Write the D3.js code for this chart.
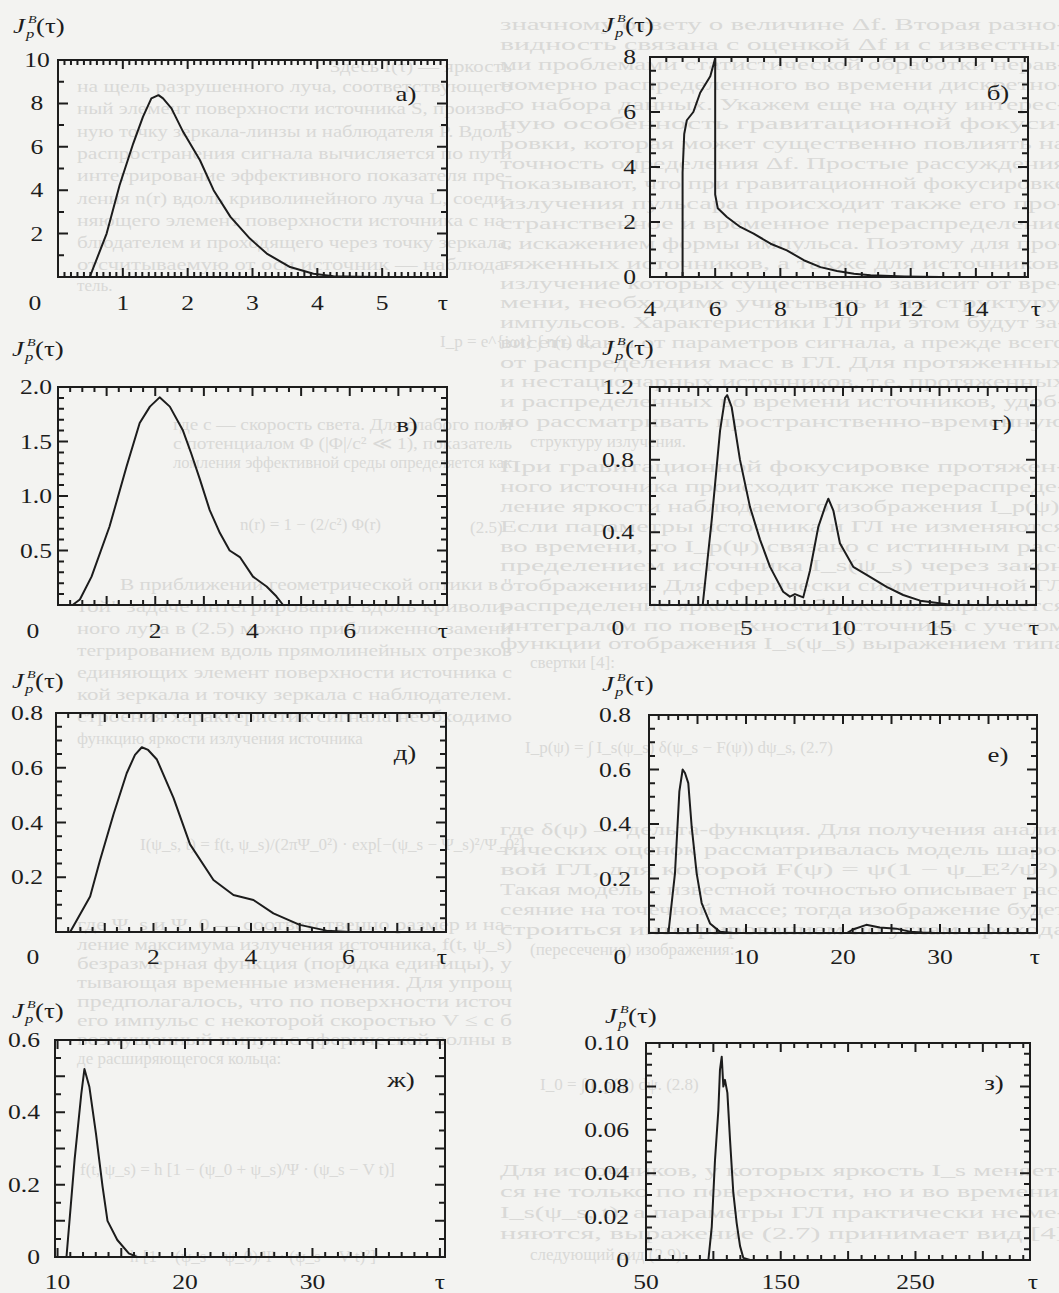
<!DOCTYPE html>
<html>
<head>
<meta charset="UTF-8">
<title>J_p^B(τ)</title>
<script src="https://d3js.org/d3.v7.min.js"></script>
<style>
html,body{margin:0;padding:0;background:#f3f3f1;}
svg{display:block;}
.page text{font-family:"Liberation Serif","DejaVu Serif",serif;fill:#d9d9d7;font-size:17px;}
.plot text{font-family:"Liberation Serif","DejaVu Serif",serif;fill:#1c1c1c;}
.curve{fill:none;stroke:#1c1c1c;stroke-width:2;stroke-linejoin:round;}
.frame{fill:none;stroke:#1c1c1c;stroke-width:2;}
</style>
</head>
<body>
<div id="container"></div>
<script>
// ---- данные ----
// а)
const tauA = [0.49, 0.75, 0.95, 1.16, 1.31, 1.44, 1.55, 1.62, 1.75, 1.93, 2.19, 2.40, 2.66, 2.96, 3.22, 3.58, 3.94, 4.25, 4.6, 5.0, 6.0];
const valA = [0, 2.0, 4.23, 6.15, 7.38, 8.23, 8.38, 8.23, 7.77, 6.69, 5.38, 4.0, 2.77, 1.77, 1.08, 0.46, 0.15, 0.04, 0.01, 0, 0];
// б)
const tauB = [5.0, 5.0, 5.05, 5.13, 5.33, 5.54, 5.85, 6.0, 6.0, 6.08, 6.36, 6.77, 7.18, 7.7, 8.2, 8.72, 9.23, 9.74, 10.26, 10.77, 11.8, 12.9, 15.6];
const valB = [0, 3.8, 5.2, 5.7, 6.0, 6.7, 7.3, 7.95, 3.0, 2.5, 2.18, 1.82, 1.58, 1.21, 0.97, 0.61, 0.36, 0.22, 0.12, 0.06, 0.02, 0, 0];
// в)
const tauV = [0.3, 0.45, 0.69, 1.06, 1.41, 1.68, 1.89, 2.09, 2.3, 2.57, 2.74, 2.92, 3.12, 3.33, 3.53, 3.74, 4.01, 4.29, 4.49, 4.63, 8.0];
const valV = [0, 0.05, 0.26, 0.72, 1.27, 1.67, 1.82, 1.905, 1.82, 1.6, 1.39, 1.15, 0.87, 0.66, 0.5, 0.44, 0.26, 0.17, 0.08, 0, 0];
// г)
const tauG = [2.73, 3.2, 3.63, 3.89, 4.0, 4.23, 4.66, 5.18, 5.7, 6.22, 6.9, 7.25, 7.51, 7.94, 8.29, 8.72, 9.07, 9.24, 9.5, 9.84, 10.53, 11.4, 12.26, 13.12, 14.0, 15.0, 15.7, 20];
const valG = [0, 0.47, 0.96, 1.14, 1.155, 1.09, 0.8, 0.54, 0.36, 0.21, 0.073, 0.046, 0.06, 0.042, 0.19, 0.43, 0.54, 0.585, 0.52, 0.34, 0.21, 0.155, 0.1, 0.055, 0.024, 0.01, 0, 0];
// д)
const tauD = [0.29, 0.70, 0.90, 1.18, 1.45, 1.62, 1.76, 1.89, 2.07, 2.41, 2.75, 3.23, 3.64, 4.05, 4.46, 5.0, 5.55, 6.03, 8.0];
const valD = [0, 0.13, 0.26, 0.43, 0.58, 0.647, 0.675, 0.665, 0.63, 0.49, 0.32, 0.19, 0.135, 0.117, 0.068, 0.026, 0.005, 0, 0];
// е)
const tauE = [2.0, 2.68, 3.13, 3.47, 3.71, 4.05, 4.4, 4.91, 5.43, 6.29, 7.3, 8.7, 20.4, 21.1, 22.4, 23.8, 25.5, 26.9, 28.2, 29.6, 40];
const valE = [0, 0.22, 0.52, 0.60, 0.587, 0.55, 0.39, 0.22, 0.11, 0.035, 0.005, 0, 0, 0.014, 0.03, 0.02, 0.016, 0.005, 0.002, 0, 0];
// ж)
const tauZh = [10.7, 11.34, 11.86, 12.11, 12.5, 13.02, 13.53, 13.92, 14.69, 15.59, 16.24, 40];
const valZh = [0, 0.27, 0.45, 0.52, 0.47, 0.34, 0.195, 0.10, 0.047, 0.01, 0, 0];
// з)
const tauZ = [96.3, 98.8, 101.2, 103.7, 104.9, 106.2, 107.4, 108.6, 110.4, 112.4, 114.8, 117.3, 119.8, 122.2, 127.2, 335];
const valZ = [0, 0.0153, 0.046, 0.069, 0.0876, 0.0937, 0.0799, 0.083, 0.077, 0.055, 0.031, 0.017, 0.0064, 0.001, 0, 0];

// подписи делений
const xLabA = ['1', '2', '3', '4', '5'];
const yLabA = ['10', '8', '6', '4', '2'];
const xLabB = ['4', '6', '8', '10', '12', '14'];
const yLabB = ['8', '6', '4', '2', '0'];
const xLabV = ['2', '4', '6'];
const yLabV = ['2.0', '1.5', '1.0', '0.5'];
const xLabG = ['5', '10', '15'];
const yLabG = ['1.2', '0.8', '0.4'];
const xLabD = ['2', '4', '6'];
const yLabD = ['0.8', '0.6', '0.4', '0.2'];
const xLabE = ['10', '20', '30'];
const yLabE = ['0.8', '0.6', '0.4', '0.2'];
const xLabZh = ['10', '20', '30'];
const yLabZh = ['0.6', '0.4', '0.2', '0'];
const xLabZ = ['50', '150', '250'];
const yLabZ = ['0.10', '0.08', '0.06', '0.04', '0.02', '0'];

const W = 1059, H = 1293;
const SX = 1.28; // шрифт на скане растянут по горизонтали

const panels = [
  { letter: 'а)', tau: tauA, val: valA, xDom: [0, 6], yDom: [0, 10], box: [58, 60, 447, 277],
    xMinor: 0.1, xMajor: 1, yMinor: 1, yMajor: 2, xLab: xLabA, yLab: yLabA,
    yLabX: 37, yAnchor: 'middle', xLabY: 310, zero: [35, 310], tauX: 443, title: [13, 33], let: [406, 101] },
  { letter: 'б)', tau: tauB, val: valB, xDom: [4, 15.6], yDom: [0, 8], box: [650, 57, 1028, 277],
    xMinor: 0.5, xMajor: 2, yMinor: 0.5, yMajor: 2, xLab: xLabB, yLab: yLabB,
    yLabX: 636, yAnchor: 'end', xLabY: 316, zero: null, tauX: 1036, title: [602, 32], let: [998, 100] },
  { letter: 'в)', tau: tauV, val: valV, xDom: [0, 8], yDom: [0, 2], box: [58, 387, 447, 605],
    xMinor: 0.25, xMajor: 1, yMinor: 0.1, yMajor: 0.5, xLab: xLabV, yLab: yLabV,
    yLabX: 52, yAnchor: 'end', xLabY: 638, zero: [33, 638], tauX: 443, title: [12, 356], let: [407, 432] },
  { letter: 'г)', tau: tauG, val: valG, xDom: [0, 20], yDom: [0, 1.2], box: [650, 387, 1036, 605],
    xMinor: 0.5, xMajor: 2.5, yMinor: 0.1, yMajor: 0.4, xLab: xLabG, yLab: yLabG,
    yLabX: 634, yAnchor: 'end', xLabY: 635, zero: [618, 635], tauX: 1034, title: [602, 355], let: [1002, 430] },
  { letter: 'д)', tau: tauD, val: valD, xDom: [0, 8], yDom: [0, 0.8], box: [56, 713, 446, 932],
    xMinor: 0.25, xMajor: 1, yMinor: 0.05, yMajor: 0.2, xLab: xLabD, yLab: yLabD,
    yLabX: 43, yAnchor: 'end', xLabY: 964, zero: [33, 964], tauX: 442, title: [12, 688], let: [405, 760] },
  { letter: 'е)', tau: tauE, val: valE, xDom: [0, 40], yDom: [0, 0.8], box: [649, 715, 1037, 933],
    xMinor: 1, xMajor: 5, yMinor: 0.05, yMajor: 0.2, xLab: xLabE, yLab: yLabE,
    yLabX: 631, yAnchor: 'end', xLabY: 964, zero: [620, 964], tauX: 1035, title: [602, 691], let: [998, 762] },
  { letter: 'ж)', tau: tauZh, val: valZh, xDom: [9.8, 40.4], yDom: [0, 0.6], box: [55, 1040, 445, 1257],
    xMinor: 1, xMajor: 5, yMinor: 0.05, yMajor: 0.1, xLab: xLabZh, yLab: yLabZh,
    yLabX: 40, yAnchor: 'end', xLabY: 1289, zero: null, tauX: 440, title: [12, 1018], let: [401, 1087] },
  { letter: 'з)', tau: tauZ, val: valZ, xDom: [50, 335], yDom: [0, 0.1], box: [646, 1043, 1030, 1260],
    xMinor: 10, xMajor: 50, yMinor: 0.005, yMajor: 0.02, xLab: xLabZ, yLab: yLabZ,
    yLabX: 629, yAnchor: 'end', xLabY: 1289, zero: null, tauX: 1033, title: [605, 1023], let: [994, 1090] }
];

// бледный текст страницы, просвечивающий на скане
const leftText = [
  [330, 72, 'Здесь I(τ) — яркость'],
  [77, 92, 'на щель разрушенного луча, соответствующего'],
  [77, 114, 'ный элемент поверхности источника S, произво-'],
  [77, 137, 'ную точку зеркала-линзы и наблюдателя P. Вдоль'],
  [77, 159, 'распространения сигнала вычисляется по пути'],
  [77, 181, 'интегрирование эффективного показателя пре-'],
  [77, 204, 'ления n(r) вдоль криволинейного луча L, соеди-'],
  [77, 226, 'няющего элемент поверхности источника с на-'],
  [77, 248, 'блюдателем и проходящего через точку зеркала,'],
  [77, 270, 'отсчитываемую от оси источник — наблюда-'],
  [77, 291, 'тель.', 1],
  [440, 347, 'I_p = e^{iωt} ∫ n(r) dl,', 1],
  [173, 430, 'где c — скорость света. Для слабого поля'],
  [173, 449, 'с потенциалом Φ (|Φ|/c² ≪ 1), показатель'],
  [173, 468, 'ломления эффективной среды определяется как'],
  [240, 530, 'n(r) = 1 − (2/c²) Φ(r)', 1],
  [470, 533, '(2.5)', 1],
  [120, 590, 'В приближении геометрической оптики в "'],
  [77, 612, 'той" задаче интегрирование вдоль криволи-'],
  [77, 634, 'ного луча в (2.5) можно приближенно замени'],
  [77, 656, 'тегрированием вдоль прямолинейных отрезков'],
  [77, 678, 'единяющих элемент поверхности источника с'],
  [77, 700, 'кой зеркала и точку зеркала с наблюдателем.'],
  [77, 722, 'строения характеристик сигнала необходимо'],
  [77, 744, 'функцию яркости излучения источника', 1],
  [140, 850, 'I(ψ_s, t) = f(t, ψ_s)/(2πΨ_0²) · exp[−(ψ_s − Ψ_s)²/Ψ_0²]', 1],
  [77, 930, 'где Ψ_s и Ψ_0 — соответственно размер и на-'],
  [77, 950, 'ление максимума излучения источника, f(t, ψ_s)'],
  [77, 969, 'безразмерная функция (порядка единицы), у'],
  [77, 988, 'тывающая временные изменения. Для упрощ'],
  [77, 1007, 'предполагалось, что по поверхности источ'],
  [77, 1026, 'его импульс с некоторой скоростью V ≤ c б'],
  [77, 1045, 'возмущенный импульс сферической волны в'],
  [77, 1064, 'де расширяющегося кольца:', 1],
  [80, 1175, 'f(t, ψ_s) = h [1 − (ψ_0 + ψ_s)/Ψ · (ψ_s − V t)]', 1],
  [130, 1262, 'h [1 − (ψ_s − ψ_0)/Ψ · (ψ_s − V t)²]', 1]
];
const rightText = [
  [500, 30, 'значному ответу о величине Δf. Вторая разно-'],
  [500, 50, 'видность связана с оценкой Δf и с известны-'],
  [500, 70, 'ми проблемами статистической обработки нерав-'],
  [500, 90, 'номерно распределенного во времени дискретно-'],
  [500, 110, 'го набора данных. Укажем еще на одну интерес-'],
  [500, 129, 'ную особенность гравитационной фокуси-'],
  [500, 149, 'ровки, которая может существенно повлиять на'],
  [500, 169, 'точность определения Δf. Простые рассуждения'],
  [500, 189, 'показывают, что при гравитационной фокусировке'],
  [500, 209, 'излучения пульсара происходит также его про-'],
  [500, 229, 'странственное и временное перераспределение'],
  [500, 249, 'с искажением формы импульса. Поэтому для про-'],
  [500, 269, 'тяженных источников, а также для источников,'],
  [500, 289, 'излучение которых существенно зависит от вре-'],
  [500, 308, 'мени, необходимо учитывать и их структуру.'],
  [500, 328, 'импульсов. Характеристики ГЛ при этом будут за-'],
  [500, 348, 'висеть как и от параметров сигнала, а прежде всего'],
  [500, 368, 'от распределения масс в ГЛ. Для протяженных'],
  [500, 387, 'и нестационарных источников, т.е. протяженных'],
  [500, 407, 'и распределенных во времени источников, удоб-'],
  [500, 427, 'но рассматривать пространственно-временную'],
  [530, 447, 'структуру излучения.', 1],
  [500, 472, 'При гравитационной фокусировке протяжен-'],
  [500, 492, 'ного источника происходит также перераспреде-'],
  [500, 512, 'ление яркости наблюдаемого изображения I_p(ψ).'],
  [500, 532, 'Если параметры источника и ГЛ не изменяются'],
  [500, 552, 'во времени, то I_p(ψ) связано с истинным рас-'],
  [500, 571, 'пределением источника I_s(ψ_s) через закон'],
  [500, 591, 'отображения. Для сферически симметричной ГЛ'],
  [500, 611, 'распределение яркости изображения выражается'],
  [500, 631, 'интегралом по поверхности источника с учетом'],
  [500, 649, 'функции отображения I_s(ψ_s) выражением типа'],
  [530, 668, 'свертки [4]:', 1],
  [525, 753, 'I_p(ψ) = ∫ I_s(ψ_s) δ(ψ_s − F(ψ)) dψ_s,          (2.7)', 1],
  [500, 835, 'где δ(ψ) — дельта-функция. Для получения анали-'],
  [500, 855, 'тических оценок рассматривалась модель шаро-'],
  [500, 875, 'вой ГЛ, для которой F(ψ) = ψ(1 − ψ_E²/ψ²).'],
  [500, 895, 'Такая модель с известной точностью описывает рас-'],
  [500, 915, 'сеяние на точечной массе; тогда изображение будет'],
  [500, 935, 'строиться интегрированием по углам прихода'],
  [530, 955, '(пересечения) изображения:', 1],
  [540, 1090, 'I_0 = ∫ I_p(ψ) dψ.                        (2.8)', 1],
  [500, 1176, 'Для источников, у которых яркость I_s меняет-'],
  [500, 1197, 'ся не только по поверхности, но и во времени,'],
  [500, 1218, 'I_s(ψ_s, t), а параметры ГЛ практически не ме-'],
  [500, 1239, 'няются, выражение (2.7) принимает вид [4]'],
  [530, 1260, 'следующий вид (2.9):', 1]
];

function stepValues(dom, step) {
  const v = [];
  const a = Math.ceil(dom[0] / step - 1e-9), b = Math.floor(dom[1] / step + 1e-9);
  for (let i = a; i <= b; i++) v.push(+(i * step).toFixed(6));
  return v;
}

function label(g, x, y, s, anchor, size, italic) {
  return g.append('text')
    .attr('transform', 'translate(' + x + ',' + y + ') scale(' + SX + ',1)')
    .attr('text-anchor', anchor || 'middle')
    .style('font-size', (size || 20) + 'px')
    .style('font-style', italic ? 'italic' : 'normal')
    .text(s);
}

// насечки внутрь рамки со всех четырех сторон
function tickPath(x, y, vals, len, horiz) {
  const [x0, x1] = x.range(), [y1, y0] = y.range();
  const path = d3.path();
  vals.forEach(d => {
    if (horiz) {
      const px = x(d);
      path.moveTo(px, y1); path.lineTo(px, y1 - len);
      path.moveTo(px, y0); path.lineTo(px, y0 + len);
    } else {
      const py = y(d);
      path.moveTo(x0, py); path.lineTo(x0 + len, py);
      path.moveTo(x1, py); path.lineTo(x1 - len, py);
    }
  });
  return path.toString();
}

function render() {
  const svg = d3.select('#container').append('svg')
    .attr('width', W).attr('height', H);
  svg.append('rect').attr('width', W).attr('height', H).attr('fill', '#f3f3f1');

  // фон страницы
  const page = svg.append('g').attr('class', 'page');
  leftText.forEach(d => {
    const t = page.append('text').attr('x', d[0]).attr('y', d[1]).text(d[2]);
    if (!d[3]) t.attr('textLength', 512 - d[0]).attr('lengthAdjust', 'spacingAndGlyphs');
  });
  rightText.forEach(d => {
    const t = page.append('text').attr('x', d[0]).attr('y', d[1]).text(d[2]);
    if (!d[3]) t.attr('textLength', 1066 - d[0]).attr('lengthAdjust', 'spacingAndGlyphs');
  });

  panels.forEach(p => {
    const [x0, y0, x1, y1] = p.box;
    const x = d3.scaleLinear().domain(p.xDom).range([x0, x1]);
    const y = d3.scaleLinear().domain(p.yDom).range([y1, y0]);
    const g = svg.append('g').attr('class', 'plot');

    const d = [
      tickPath(x, y, stepValues(p.xDom, p.xMinor), 5, true),
      tickPath(x, y, stepValues(p.xDom, p.xMajor), 9, true),
      tickPath(x, y, stepValues(p.yDom, p.yMinor), 6, false),
      tickPath(x, y, stepValues(p.yDom, p.yMajor), 10, false)
    ].join('');
    g.append('path').attr('d', d).attr('fill', 'none').attr('stroke', '#1c1c1c').attr('stroke-width', 2);

    g.append('rect').attr('class', 'frame')
      .attr('x', x0).attr('y', y0).attr('width', x1 - x0).attr('height', y1 - y0);

    const line = d3.line().x((v, i) => x(p.tau[i])).y(v => y(v));
    g.append('path').datum(p.val).attr('class', 'curve').attr('d', line);

    // подписи осей
    p.yLab.forEach(s => label(g, p.yLabX, y(+s) + 7, s, p.yAnchor));
    p.xLab.forEach(s => label(g, x(+s), p.xLabY, s, 'middle'));
    if (p.zero) label(g, p.zero[0], p.zero[1], '0', 'middle');
    label(g, p.tauX, p.xLabY, 'τ', 'middle');

    // J_p^B(τ)
    const [tx, ty] = p.title;
    label(g, tx, ty, 'J', 'start', 21, true);
    label(g, tx + 13, ty + 5, 'p', 'start', 13, true);
    label(g, tx + 15, ty - 10, 'B', 'start', 11, true);
    label(g, tx + 23, ty, '(τ)', 'start', 21, false);

    label(g, p.let[0], p.let[1], p.letter, 'middle', 21);
  });
}

render();
</script>
</body>
</html>
